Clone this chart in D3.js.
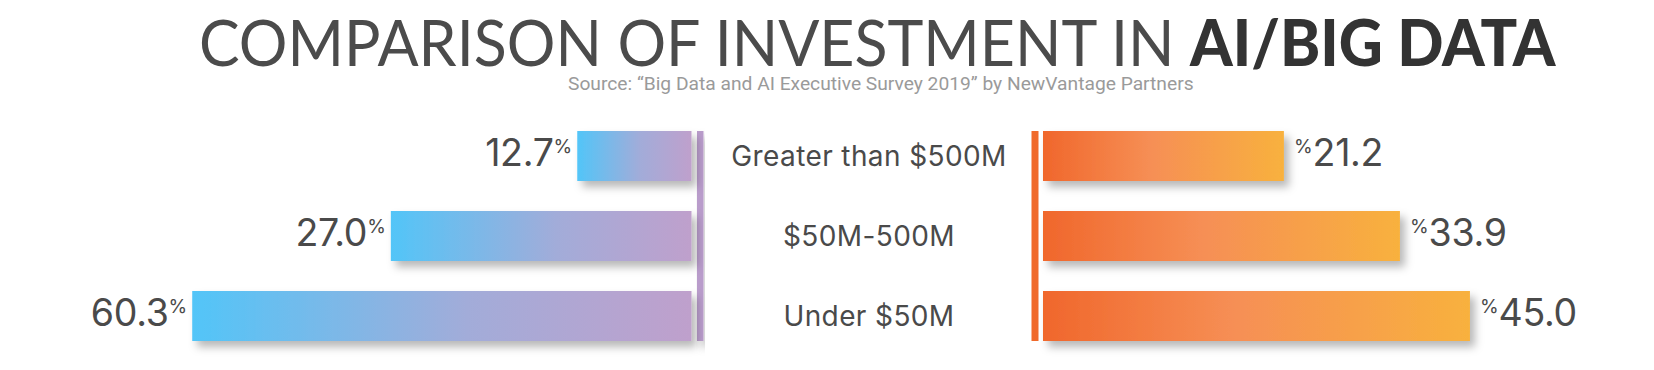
<!DOCTYPE html>
<html>
<head>
<meta charset="utf-8">
<script src="https://cdn.jsdelivr.net/npm/d3@7"></script>
<style>
  html, body { margin: 0; padding: 0; background: #ffffff; }
  svg { display: block; }
</style>
</head>
<body>
<svg id="chart" width="1654" height="370"></svg>
<script>
// ---- data ----
const categories = ["Greater than $500M", "$50M-500M", "Under $50M"];
const leftValues = [12.7, 27.0, 60.3];
const rightValues = [21.2, 33.9, 45.0];
const titleLight = "COMPARISON OF INVESTMENT IN ";
const titleBold = "AI/BIG DATA";
const subtitle = "Source: \u201CBig Data and AI Executive Survey 2019\u201D by NewVantage Partners";
const valueFormat = d3.format(".1f");

// ---- layout ----
const svg = d3.select("#chart");
const centerX = 869;
const leftEdge = 691.5;   // right end of left bars
const rightEdge = 1043;   // left start of right bars
const labelFont = "Inter, 'Noto Sans', sans-serif";
const numFont = "Inter, 'Noto Sans', sans-serif";

const y = d3.scaleBand().domain(categories).range([131, 341]).paddingInner(0.375).paddingOuter(0);
const x = d3.scaleLog().domain([8, 64]).range([0, 514]);

function fitSpacing(el, target) {
  const w = el.node().getComputedTextLength();
  const n = el.text().length;
  const ls = n > 1 ? (target - w) / (n - 1) : 0;
  el.attr("letter-spacing", ls.toFixed(2));
  return ls;
}
function fitScale(el, x0, y0, target) {
  const w = el.node().getComputedTextLength();
  el.attr("x", 0).attr("y", 0)
    .attr("transform", `translate(${x0},${y0}) scale(${(target / w).toFixed(4)},1)`);
}

const defs = svg.append("defs");
const gL = defs.append("linearGradient").attr("id", "gradL").attr("x1", "0").attr("x2", "1").attr("y1", "0").attr("y2", "0");
gL.append("stop").attr("offset", "0").attr("stop-color", "#52c5f8");
gL.append("stop").attr("offset", "0.55").attr("stop-color", "#a2acd9");
gL.append("stop").attr("offset", "1").attr("stop-color", "#bfa0cc");
const gR = defs.append("linearGradient").attr("id", "gradR").attr("x1", "0").attr("x2", "1").attr("y1", "0").attr("y2", "0");
gR.append("stop").attr("offset", "0").attr("stop-color", "#f0672c");
gR.append("stop").attr("offset", "0.45").attr("stop-color", "#f68f55");
gR.append("stop").attr("offset", "1").attr("stop-color", "#f8b13e");
const f = defs.append("filter").attr("id", "shadow").attr("x", "-10%").attr("y", "-30%").attr("width", "130%").attr("height", "180%");
f.append("feDropShadow").attr("dx", 5).attr("dy", 6).attr("stdDeviation", 4.5)
  .attr("flood-color", "#000").attr("flood-opacity", 0.28);

// ---- title ----
const title = svg.append("text")
  .attr("font-family", "Lato, 'Noto Sans', sans-serif")
  .attr("font-size", 64);
title.append("tspan").attr("fill", "#4b4b4b").attr("font-weight", 400).text(titleLight);
title.append("tspan").attr("fill", "#333333").attr("font-weight", 900).text(titleBold);
fitScale(title, 199, 66, 1357);

const sub = svg.append("text")
  .attr("font-family", "Roboto, 'Noto Sans', sans-serif")
  .attr("font-size", 18)
  .attr("fill", "#9a9a9a")
  .text(subtitle);
fitScale(sub, 568, 90, 626);

// ---- vertical axis lines ----
const [y0, y1] = y.range();
svg.append("rect").attr("x", leftEdge + 5.5).attr("y", y0).attr("width", 6.5).attr("height", y1 - y0)
  .attr("fill", "#b99ccb").attr("filter", "url(#shadow)");
svg.append("rect").attr("x", rightEdge - 11.5).attr("y", y0).attr("width", 7).attr("height", y1 - y0)
  .attr("fill", "#f06a2b");

// ---- left bars ----
const left = svg.append("g");
left.selectAll("rect").data(leftValues).join("rect")
  .attr("x", d => leftEdge - x(d))
  .attr("y", (d, i) => y(categories[i]))
  .attr("width", d => x(d))
  .attr("height", y.bandwidth())
  .attr("fill", "url(#gradL)")
  .attr("filter", "url(#shadow)");

left.selectAll("text").data(leftValues).join("text")
  .attr("x", d => leftEdge - x(d) - 5)
  .attr("y", (d, i) => y(categories[i]) + y.bandwidth() / 2 + 10)
  .attr("text-anchor", "end")
  .attr("font-family", numFont)
  .attr("fill", "#4a4a4a")
  .each(function(d) {
    const t = d3.select(this);
    t.append("tspan").attr("font-size", 37.5).attr("letter-spacing", -0.3).text(valueFormat(d));
    t.append("tspan").attr("font-size", 19).attr("dy", -13.5).text("%");
  });

// ---- right bars ----
const right = svg.append("g");
right.selectAll("rect").data(rightValues).join("rect")
  .attr("x", rightEdge)
  .attr("y", (d, i) => y(categories[i]))
  .attr("width", d => x(d))
  .attr("height", y.bandwidth())
  .attr("fill", "url(#gradR)")
  .attr("filter", "url(#shadow)");

right.selectAll("text").data(rightValues).join("text")
  .attr("x", d => rightEdge + x(d) + 10)
  .attr("y", (d, i) => y(categories[i]) + y.bandwidth() / 2 + 10)
  .attr("text-anchor", "start")
  .attr("font-family", numFont)
  .attr("fill", "#4a4a4a")
  .each(function(d) {
    const t = d3.select(this);
    t.append("tspan").attr("font-size", 19).attr("dy", -13.5).text("%");
    t.append("tspan").attr("font-size", 37.5).attr("dy", 13.5).attr("letter-spacing", -0.3).text(valueFormat(d));
  });

// ---- category labels ----
const labels = svg.append("g").selectAll("text").data(categories).join("text")
  .attr("x", centerX)
  .attr("y", d => y(d) + y.bandwidth() / 2 + 10)
  .attr("text-anchor", "middle")
  .attr("font-family", labelFont)
  .attr("font-size", 28)
  .attr("fill", "#4a4a4a")
  .text(d => d);
const ls = fitSpacing(d3.select(labels.nodes()[0]), 275);
labels.attr("letter-spacing", ls.toFixed(2));
</script>
</body>
</html>
